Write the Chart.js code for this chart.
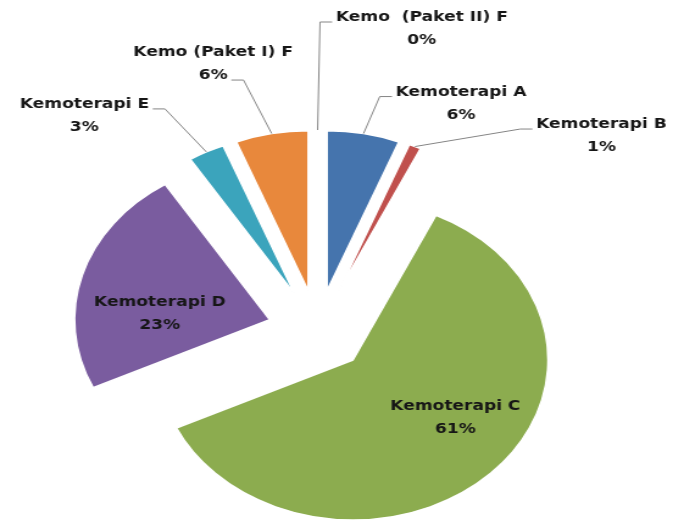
<!DOCTYPE html>
<html>
<head>
<meta charset="utf-8">
<script src="https://cdn.jsdelivr.net/npm/chart.js@4"></script>
<style>
  body { margin: 0; background: #fff; }
</style>
</head>
<body>
<canvas id="pieChart" width="552" height="520" style="width:673px;height:520px"></canvas>
<script>
const categories = ["Kemoterapi A", "Kemoterapi B", "Kemoterapi C", "Kemoterapi D", "Kemoterapi E", "Kemo (Paket I) F", "Kemo  (Paket II) F"];
const values = [6, 1, 61, 23, 3, 6, 0];
const colors = ["#4574ad", "#c0504d", "#8cac4f", "#7a5c9f", "#3ba4bc", "#e8883c", "#9a9a9a"];

// where each label sits: "out" = relative to outer edge of slice, "in" = relative to slice tip
const labelPlace = [
    { at: "out", dx: 80, dy: -30, line: 0, side: "l" },
    { at: "out", dx: 153, dy: -10.5, line: 0, side: "l" },
    { at: "in", dx: 84, dy: 57.5 },
    { at: "in", dx: -90, dy: -6 },
    { at: "out", dx: -100, dy: -36, line: 0, side: "r" },
    { at: "out", dx: -48, dy: -69.5, line: 1, side: "r" },
    { at: "out", dx: 85.5, dy: -101, line: 0, side: "l" }
];

const EXPLODE = 41;
const total = values.reduce((a, b) => a + b, 0);

// push every slice out from the centre by EXPLODE px (excel style explosion)
const explode = {
    id: "explode",
    beforeDatasetDraw(chart, args) {
        const ctx = chart.ctx;
        args.meta.data.forEach(arc => {
            const mid = (arc.startAngle + arc.endAngle) / 2;
            ctx.save();
            ctx.translate(Math.cos(mid) * EXPLODE, Math.sin(mid) * EXPLODE);
            arc.draw(ctx, chart.chartArea);
            ctx.restore();
        });
        return false;
    }
};

const pieLabels = {
    id: "pieLabels",
    afterDatasetsDraw(chart) {
        const ctx = chart.ctx;
        const meta = chart.getDatasetMeta(0);
        ctx.save();
        ctx.font = "bold 14px 'DejaVu Sans'";
        ctx.textAlign = "center";
        ctx.textBaseline = "middle";
        meta.data.forEach((arc, i) => {
            const p = labelPlace[i];
            const mid = (arc.startAngle + arc.endAngle) / 2;
            const cx = Math.cos(mid), cy = Math.sin(mid);
            const tipX = arc.x + cx * EXPLODE, tipY = arc.y + cy * EXPLODE;
            const outX = arc.x + cx * (EXPLODE + arc.outerRadius);
            const outY = arc.y + cy * (EXPLODE + arc.outerRadius);
            const baseX = p.at === "in" ? tipX : outX;
            const baseY = p.at === "in" ? tipY : outY;
            const lx = baseX + p.dx, ly = baseY + p.dy;
            const lines = [categories[i], Math.round(values[i] / total * 100) + "%"];
            const lineY = [ly - 11.5, ly + 11.5];
            if (p.at === "out") {
                const w = ctx.measureText(lines[p.line]).width;
                const ay = lineY[p.line] + 4.5;
                const ax = p.side === "l" ? lx - w / 2 - 3 : lx + w / 2 + 3;
                const ex = p.side === "l" ? ax - 10 : ax + 10;
                ctx.strokeStyle = "#858585";
                ctx.lineWidth = 1;
                ctx.beginPath();
                ctx.moveTo(outX, outY);
                ctx.lineTo(ex, ay);
                ctx.lineTo(ax, ay);
                ctx.stroke();
            }
            ctx.fillStyle = "#161616";
            ctx.fillText(lines[0], lx, lineY[0]);
            ctx.fillText(lines[1], lx, lineY[1]);
        });
        ctx.restore();
    }
};

const pieCtx = document.getElementById("pieChart").getContext("2d");
new Chart(pieCtx, {
    type: "pie",
    data: {
        labels: categories,
        datasets: [{
            data: values,
            backgroundColor: colors,
            borderColor: "#ffffff",
            borderWidth: 1.5,
            radius: 160
        }]
    },
    options: {
        responsive: false,
        devicePixelRatio: 1,
        animation: false,
        layout: { padding: { left: 0, right: 31, top: 142, bottom: 0 } },
        plugins: {
            legend: { display: false },
            tooltip: { enabled: false }
        }
    },
    plugins: [explode, pieLabels]
});
</script>
</body>
</html>
